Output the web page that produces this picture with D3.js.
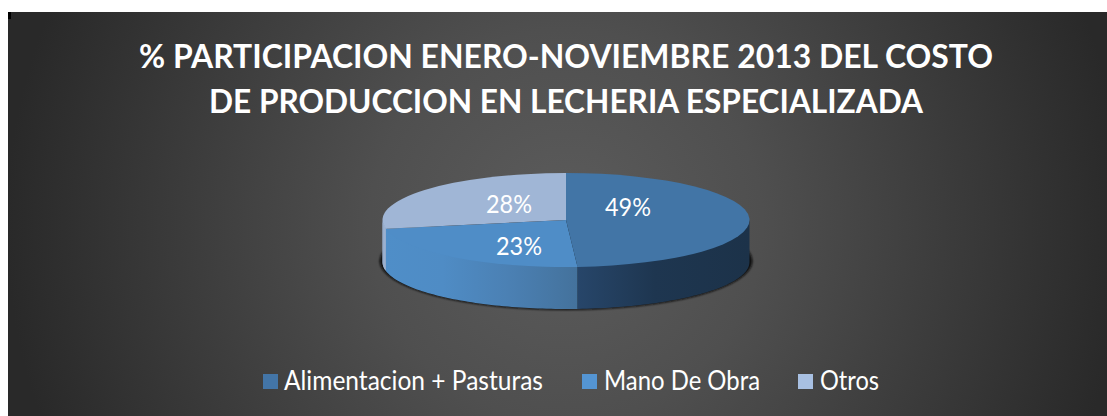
<!DOCTYPE html>
<html><head><meta charset="utf-8">
<script src="https://cdn.jsdelivr.net/npm/d3@7"></script>
<style>html,body{margin:0;padding:0;background:#fff}svg{display:block}text{font-family:Lato,"Open Sans",sans-serif;fill:#fff}</style>
</head><body><svg id="c" width="1107" height="416"></svg>
<script>
(function(){
const categories=["Alimentacion + Pasturas","Mano De Obra","Otros"];
const values=[49,23,28];
const titleLines=["% PARTICIPACION ENERO-NOVIEMBRE 2013 DEL COSTO","DE PRODUCCION EN LECHERIA ESPECIALIZADA"];
const topColors=["#4275a6","#4f8dc7","#a0b6d6"];
const legendColors=["#4375a7","#5495d3","#a8c0e2"];
const labelPlacement=[[62,-13],[-47,26],[-57,-16]];
const titleWidths=[854,714];
const legendX=[263,582,798];
const legendWidths=[259,156,59];
const legendTextX=[21,22,22];
const W=1107,H=416,cx=566,cy=220,rx=183.5,ry=47,depth=42;
const svg=d3.select("#c");
const defs=svg.append("defs");
const bg=defs.append("radialGradient").attr("id","bg").attr("gradientUnits","userSpaceOnUse")
 .attr("cx",cx).attr("cy",225).attr("r",560);
[[0,"#5c5c5c"],[0.35,"#4f4f4f"],[1,"#292929"]].forEach(s=>bg.append("stop").attr("offset",s[0]).attr("stop-color",s[1]));
const blur=defs.append("filter").attr("id","blur").attr("x","-10%").attr("y","-20%").attr("width","120%").attr("height","140%");
blur.append("feGaussianBlur").attr("stdDeviation",1.3);
function grad(id,x1,x2,stops){const g=defs.append("linearGradient").attr("id",id).attr("gradientUnits","userSpaceOnUse")
 .attr("x1",x1).attr("x2",x2).attr("y1",0).attr("y2",0);
 stops.forEach(s=>g.append("stop").attr("offset",s[0]).attr("stop-color",s[1]));}
grad("side0",577,750,[[0,"#27466a"],[0.45,"#1e3650"],[1,"#1c3249"]]);
grad("side1",385,577,[[0,"#4f8ec8"],[0.3,"#4f8cc5"],[0.65,"#4b80b3"],[1,"#44729c"]]);
grad("side2",382,386,[[0,"#93a8c6"],[1,"#a0b6d6"]]);

svg.append("rect").attr("x",8).attr("y",12).attr("width",W-8).attr("height",H-12).attr("fill","url(#bg)");
svg.append("rect").attr("x",8).attr("y",12).attr("width",3).attr("height",7).attr("fill","#000");

const title=svg.append("g").attr("text-anchor","middle").attr("font-weight",700).attr("font-size",33);
title.selectAll("text").data(titleLines).join("text").attr("x",566).attr("y",(d,i)=>68+i*45)
 .attr("textLength",(d,i)=>titleWidths[i]).attr("lengthAdjust","spacingAndGlyphs").text(d=>d);

const pie=d3.pie().sort(null).value(d=>d);
const arcs=pie(values);
const pt=(a,dy)=>[cx+rx*Math.sin(a),cy-ry*Math.cos(a)+dy];
const line=d3.line();
svg.append("ellipse").attr("cx",cx).attr("cy",cy+depth-1).attr("rx",rx+3).attr("ry",ry+2).attr("fill","#111").attr("filter","url(#blur)");
const vis0=Math.PI/2,vis1=3*Math.PI/2;
const sl=d3.range(0,21).map(i=>arcs[1].endAngle+(vis1-arcs[1].endAngle)*i/20);
svg.append("path").attr("d",line(sl.map(a=>pt(a,0)).concat(sl.slice().reverse().map(a=>pt(a,depth))))+"Z").attr("fill","url(#side2)");
svg.append("g").selectAll("path").data(arcs).join("path").attr("d",d=>{
  const a0=Math.max(d.startAngle,vis0),a1=Math.min(d.endAngle,vis1);
  if(a1<=a0)return null;
  const as=d3.range(0,61).map(i=>a0+(a1-a0)*i/60);
  return line(as.map(a=>pt(a,-1.5)).concat(as.slice().reverse().map(a=>pt(a,depth))))+"Z";
}).attr("fill",(d,i)=>`url(#side${i})`);
const arc=d3.arc().innerRadius(0).outerRadius(rx);
const faces=svg.append("g").attr("transform",`translate(${cx},${cy}) scale(1,${ry/rx})`);
faces.selectAll("path").data(arcs).join("path").attr("d",arc).attr("fill",(d,i)=>topColors[i]);
svg.append("g").attr("text-anchor","middle").attr("font-size",25).selectAll("text").data(arcs).join("text")
 .attr("x",(d,i)=>cx+labelPlacement[i][0]).attr("y",(d,i)=>cy+labelPlacement[i][1]+9)
 .attr("textLength",46).attr("lengthAdjust","spacingAndGlyphs").text(d=>d.value+"%");
const lg=svg.append("g").selectAll("g").data(categories).join("g").attr("transform",(d,i)=>`translate(${legendX[i]},374)`);
lg.append("rect").attr("width",15).attr("height",15).attr("fill",(d,i)=>legendColors[i]);
lg.append("text").attr("x",(d,i)=>legendTextX[i]).attr("y",16).attr("font-size",26)
 .attr("textLength",(d,i)=>legendWidths[i]).attr("lengthAdjust","spacingAndGlyphs").text(d=>d);
})();
</script></body></html>
